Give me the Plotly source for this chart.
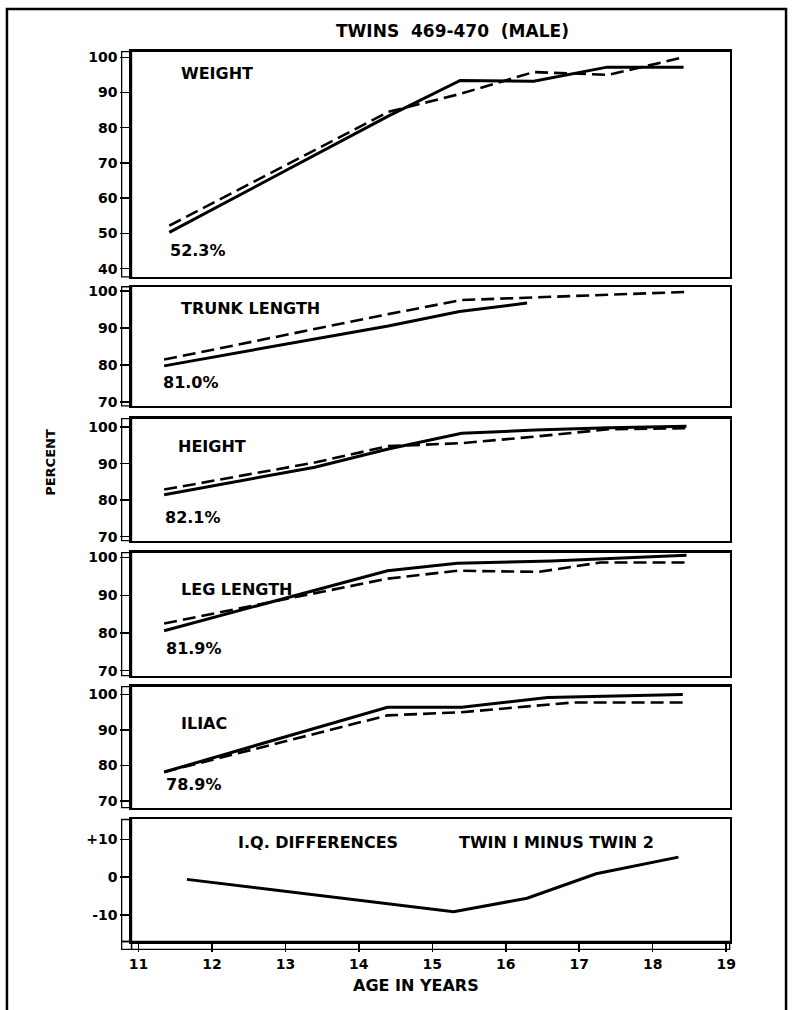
import plotly.graph_objects as go
from plotly.subplots import make_subplots

# ---------------- data ----------------
title_text = "TWINS  469-470  (MALE)"

weight_age_1 = [11.42, 14.40, 15.38, 16.38, 17.38, 18.42]
weight_twin1 = [50.3, 83.3, 93.4, 93.2, 97.2, 97.2]
weight_age_2 = [11.42, 14.40, 15.38, 16.38, 17.40, 18.42]
weight_twin2 = [52.2, 84.5, 89.6, 95.8, 95.0, 100.0]

trunk_age_1 = [11.35, 14.40, 15.37, 16.29]
trunk_twin1 = [79.8, 90.6, 94.5, 96.8]
trunk_age_2 = [11.35, 14.40, 15.40, 16.40, 17.40, 18.46]
trunk_twin2 = [81.5, 93.8, 97.6, 98.3, 99.0, 99.8]

height_age_1 = [11.35, 13.40, 14.40, 15.40, 16.40, 17.40, 18.46]
height_twin1 = [81.5, 89.0, 94.0, 98.3, 99.2, 99.8, 100.2]
height_age_2 = [11.35, 13.40, 14.40, 15.40, 16.40, 17.40, 18.46]
height_twin2 = [82.9, 90.3, 94.8, 95.6, 97.4, 99.4, 99.7]

leg_age_1 = [11.35, 14.39, 15.34, 16.62, 18.46]
leg_twin1 = [80.6, 96.5, 98.5, 99.1, 100.6]
leg_age_2 = [11.35, 14.39, 15.34, 16.45, 17.29, 18.46]
leg_twin2 = [82.5, 94.4, 96.5, 96.2, 98.7, 98.7]

iliac_age_1 = [11.35, 14.39, 15.40, 16.57, 18.41]
iliac_twin1 = [78.2, 96.4, 96.4, 99.1, 100.0]
iliac_age_2 = [11.35, 14.39, 15.40, 16.90, 18.41]
iliac_twin2 = [78.2, 94.1, 95.0, 97.7, 97.7]

iq_age = [11.66, 15.29, 16.29, 17.23, 18.35]
iq_diff = [-0.6, -9.2, -5.6, 0.9, 5.3]

panel_names = ["WEIGHT", "TRUNK LENGTH", "HEIGHT", "LEG LENGTH", "ILIAC"]
first_values = ["52.3%", "81.0%", "82.1%", "81.9%", "78.9%"]
x_ticks = [11, 12, 13, 14, 15, 16, 17, 18, 19]
pct_ticks_weight = [40, 50, 60, 70, 80, 90, 100]
pct_ticks = [70, 80, 90, 100]
iq_ticks = [-10, 0, 10]
iq_tick_text = ["-10", "0", "+10"]

# ---------------- layout helpers ----------------
W, H = 796, 1010
FONT = "DejaVu Sans"


def px(xp):
    return xp / W


def py(yp):
    return 1 - yp / H


# panel top/bottom in pixels
panels_px = [(48, 275), (285, 405), (418, 541), (553, 677), (688, 810), (822, 945)]
y_ranges = [[37.7, 101.6], [69.0, 101.2], [68.9, 102.3], [68.7, 101.3], [68.2, 102.2], [-17.1, 15.3]]
X_LEFT, X_RIGHT = 130, 735
x_range = [10.906, 19.048]

fig = make_subplots(rows=6, cols=1, shared_xaxes=True, vertical_spacing=0.01)

series = [
    (weight_age_1, weight_twin1, weight_age_2, weight_twin2),
    (trunk_age_1, trunk_twin1, trunk_age_2, trunk_twin2),
    (height_age_1, height_twin1, height_age_2, height_twin2),
    (leg_age_1, leg_twin1, leg_age_2, leg_twin2),
    (iliac_age_1, iliac_twin1, iliac_age_2, iliac_twin2),
]
for i, (a1, v1, a2, v2) in enumerate(series):
    fig.add_trace(go.Scatter(x=a1, y=v1, mode="lines", line=dict(color="black", width=3),
                             showlegend=False, hoverinfo="skip"), row=i + 1, col=1)
    fig.add_trace(go.Scatter(x=a2, y=v2, mode="lines",
                             line=dict(color="black", width=2.6, dash="13px,6px"),
                             showlegend=False, hoverinfo="skip"), row=i + 1, col=1)
fig.add_trace(go.Scatter(x=iq_age, y=iq_diff, mode="lines", line=dict(color="black", width=3),
                         showlegend=False, hoverinfo="skip"), row=6, col=1)

tickfont = dict(family=FONT, size=14, color="black", weight="bold")
for r in range(1, 7):
    top, bot = panels_px[r - 1]
    yname = "yaxis" if r == 1 else f"yaxis{r}"
    xname = "xaxis" if r == 1 else f"xaxis{r}"
    if r == 1:
        tv, tt = pct_ticks_weight, [str(v) for v in pct_ticks_weight]
    elif r == 6:
        tv, tt = iq_ticks, iq_tick_text
    else:
        tv, tt = pct_ticks, [str(v) for v in pct_ticks]
    fig.layout[yname].update(
        domain=[py(bot), py(top)], range=y_ranges[r - 1], tickvals=tv, ticktext=tt,
        ticks="outside", ticklen=9, tickwidth=1.5, tickcolor="black",
        showline=True, linecolor="black", linewidth=2.2, mirror=True,
        showgrid=False, zeroline=False, tickfont=tickfont, fixedrange=True,
    )
    fig.layout[xname].update(
        domain=[px(X_LEFT), px(X_RIGHT)], range=x_range,
        showline=True, linecolor="black", linewidth=2.2, mirror=True,
        showgrid=False, zeroline=False, fixedrange=True,
        tickvals=x_ticks, ticks="outside" if r == 6 else "", ticklen=8, tickwidth=1.5,
        tickcolor="black", showticklabels=(r == 6), tickfont=tickfont,
    )
    # left ruler strip
    fig.add_shape(type="rect", xref="paper", yref="paper",
                  x0=px(120), x1=px(X_LEFT), y0=py(bot), y1=py(top),
                  line=dict(color="black", width=1.3), fillcolor="rgba(0,0,0,0)")

# bottom ruler strip
fig.add_shape(type="rect", xref="paper", yref="paper",
              x0=px(X_LEFT), x1=px(X_RIGHT), y0=py(953), y1=py(945),
              line=dict(color="black", width=1.3), fillcolor="rgba(0,0,0,0)")
fig.add_shape(type="rect", xref="paper", yref="paper",
              x0=px(120), x1=px(X_LEFT), y0=py(953), y1=py(945),
              line=dict(color="black", width=1.3), fillcolor="rgba(0,0,0,0)")
# outer frame of the page
fig.add_shape(type="rect", xref="paper", yref="paper",
              x0=px(4), x1=px(792), y0=py(1030), y1=py(5),
              line=dict(color="black", width=2.5), fillcolor="rgba(0,0,0,0)")

ann = []
lab_font = dict(family=FONT, size=16, color="black", weight="bold")
ann.append(dict(text=title_text, x=px(455), y=py(27), xref="paper", yref="paper",
                showarrow=False, xanchor="center", yanchor="middle",
                font=dict(family=FONT, size=17, color="black", weight="bold")))
name_pos = [(178, 70), (178, 307), (175, 446), (178, 590), (178, 725)]
val_pos = [(167, 248), (160, 382), (162, 518), (163, 650), (163, 787)]
for name, (nx, ny), val, (vx, vy) in zip(panel_names, name_pos, first_values, val_pos):
    ann.append(dict(text=name, x=px(nx), y=py(ny), xref="paper", yref="paper", showarrow=False,
                    xanchor="left", yanchor="middle", font=lab_font))
    ann.append(dict(text=val, x=px(vx), y=py(vy), xref="paper", yref="paper", showarrow=False,
                    xanchor="left", yanchor="middle", font=lab_font))
ann.append(dict(text="I.Q. DIFFERENCES", x=px(236), y=py(845), xref="paper", yref="paper",
                showarrow=False, xanchor="left", yanchor="middle", font=lab_font))
ann.append(dict(text="TWIN I MINUS TWIN 2", x=px(459), y=py(845), xref="paper", yref="paper",
                showarrow=False, xanchor="left", yanchor="middle", font=lab_font))
ann.append(dict(text="AGE IN YEARS", x=px(418), y=py(989), xref="paper", yref="paper",
                showarrow=False, xanchor="center", yanchor="middle",
                font=dict(family=FONT, size=16, color="black", weight="bold")))
ann.append(dict(text="PERCENT", x=px(48), y=py(462), xref="paper", yref="paper",
                showarrow=False, xanchor="center", yanchor="middle", textangle=-90,
                font=dict(family=FONT, size=13, color="black", weight="bold")))

fig.update_layout(
    width=W, height=H, autosize=False,
    margin=dict(l=0, r=0, t=0, b=0),
    paper_bgcolor="white", plot_bgcolor="white",
    annotations=ann, showlegend=False,
)

fig.write_html(
    "out.html",
    config={"displayModeBar": False, "staticPlot": True},
    post_script="document.body.style.margin='0';document.body.style.overflow='hidden';",
)
